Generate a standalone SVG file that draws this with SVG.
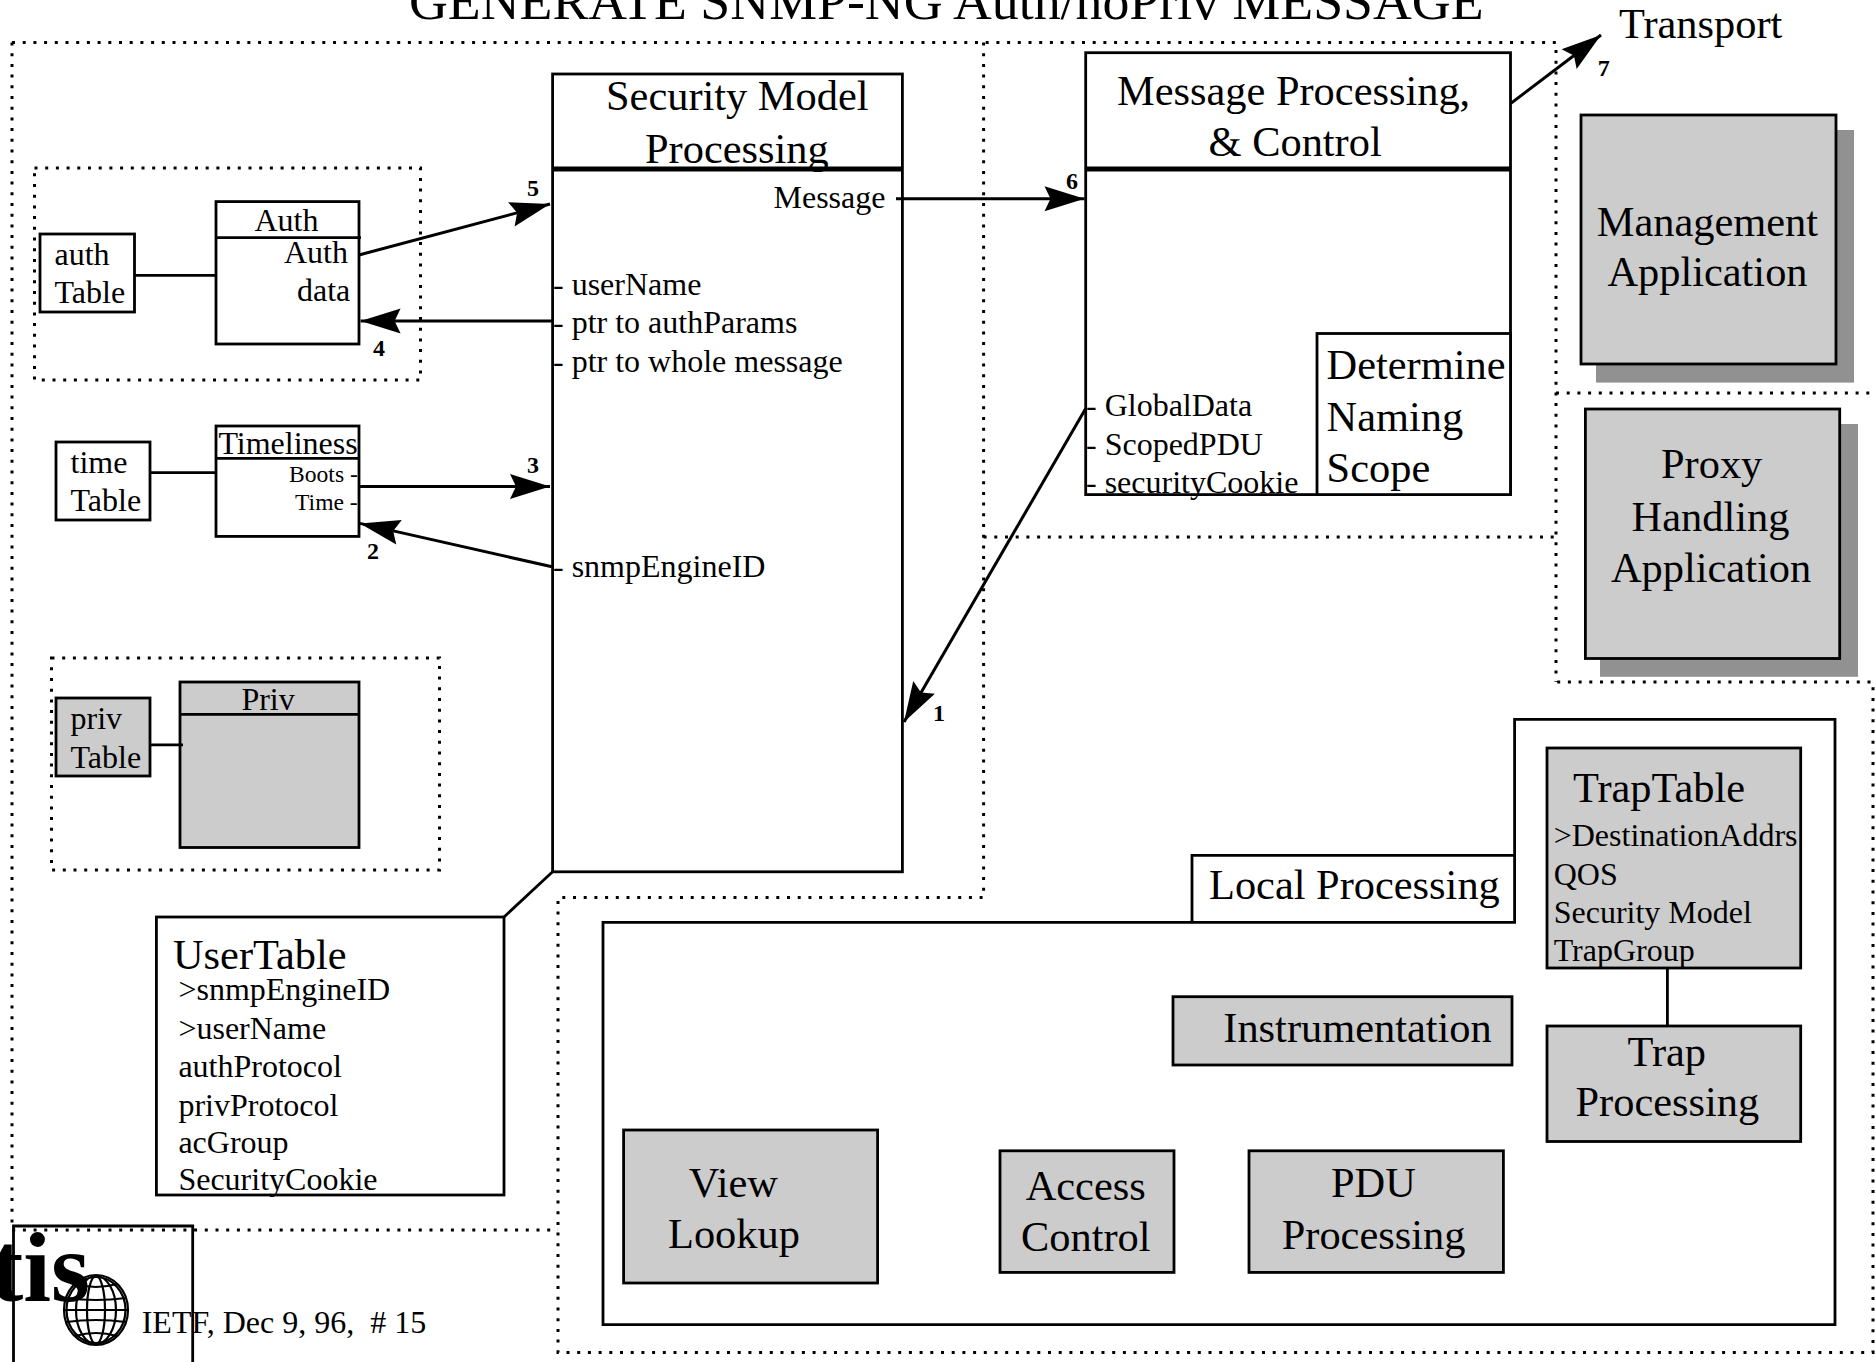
<svg xmlns="http://www.w3.org/2000/svg" width="1875" height="1362" viewBox="0 0 1875 1362">
<style>
text{font-family:"Liberation Serif","Times New Roman",serif;fill:#000;white-space:pre;transform:translate(-1px,0.7px)}
.l{font-size:42.4px}.m{font-size:32px}.s{font-size:23.6px}.n{font-size:24px;font-weight:bold}
.t{font-size:53.8px}.logo{font-size:100px;font-weight:bold}
.box{fill:#fff;stroke:#000;stroke-width:2.8}
.gray{fill:#ccc;stroke:#000;stroke-width:2.8}
.shadow{fill:#919191}
.hd{fill:none;stroke:#000;stroke-width:2.8}
.thick{fill:none;stroke:#000;stroke-width:5}
.dot{fill:none;stroke:#000;stroke-width:3;stroke-dasharray:3 7.7}
.wire{fill:none;stroke:#000;stroke-width:2.8}
.arrow{fill:none;stroke:#000;stroke-width:3;marker-end:url(#head)}
.globe{fill:none;stroke:#000;stroke-width:2.2}
</style>
<defs>
<marker id="head" markerUnits="userSpaceOnUse" markerWidth="42" markerHeight="26" refX="40" refY="12.5" orient="auto" overflow="visible">
<path d="M40,12.5 L0,0 L6,12.5 L0,25 Z" fill="#000"/>
</marker>
</defs>
<rect width="1875" height="1362" fill="#fff"/>
<text id="title" class="t" x="410" y="18">GENERATE SNMP-NG Auth/noPriv MESSAGE</text>
<text id="transport" class="l" x="1620" y="37">Transport</text>
<g id="boundaries">
<path class="dot" d="M12,42.5 H1556 V682 M12,42.5 V1230 H558 M983.6,42.5 V897.5 H558 V1352.5 H1873 V682 H1556 M983.6,537 H1556 M1556,393 H1875"/>
<rect class="dot" x="34.5" y="168" width="386" height="212"/>
<rect class="dot" x="51.5" y="658" width="388" height="212"/>
</g>
<g id="auth-table"><rect class="box" x="40" y="234" width="94.5" height="78"/>
<text class="m" x="55.5" y="264.5">auth</text><text class="m" x="55.5" y="302">Table</text></g>
<g id="auth"><rect class="box" x="216" y="201.6" width="143" height="142.4"/><path class="hd" d="M216,237.6 H361"/>
<text class="m" x="255.5" y="230">Auth</text><text class="m" x="285" y="262.4">Auth</text><text class="m" x="298" y="300.5">data</text></g>
<g id="time-table"><rect class="box" x="56" y="442" width="94" height="78"/>
<text class="m" x="71.5" y="472.7">time</text><text class="m" x="71.5" y="510.4">Table</text></g>
<g id="timeliness"><rect class="box" x="216" y="426" width="143" height="110.4"/><path class="hd" d="M216,458.4 H359"/>
<text class="m" x="219.4" y="453">Timeliness</text><text class="s" x="290" y="481.4">Boots -</text><text class="s" x="296" y="509.5">Time -</text></g>
<g id="priv-table"><rect class="gray" x="56" y="698" width="94" height="78"/>
<text class="m" x="71.5" y="728.7">priv</text><text class="m" x="71.5" y="767">Table</text></g>
<g id="priv"><rect class="gray" x="180" y="682" width="179" height="165.5"/><path class="hd" d="M180,714.4 H359"/>
<text class="m" x="242.4" y="709">Priv</text></g>
<g id="security-model"><rect class="box" x="552.6" y="74" width="349.8" height="797.8"/><path class="thick" d="M552.6,169 H902.4"/>
<text class="l" x="607" y="109.7">Security Model</text><text class="l" x="646" y="162">Processing</text>
<text class="m" x="774.5" y="207">Message</text>
<text class="m" x="554" y="294">- userName</text><text class="m" x="554" y="332.6">- ptr to authParams</text><text class="m" x="554" y="371">- ptr to whole message</text><text class="m" x="554" y="576.8">- snmpEngineID</text></g>
<g id="user-table"><rect class="box" x="156.4" y="917" width="347.6" height="278"/>
<text class="l" x="174" y="968">UserTable</text>
<text class="m" x="179.4" y="999.7">&gt;snmpEngineID</text><text class="m" x="179.4" y="1038">&gt;userName</text><text class="m" x="179.4" y="1076.3">authProtocol</text><text class="m" x="179.4" y="1115">privProtocol</text><text class="m" x="179.4" y="1152.8">acGroup</text><text class="m" x="179.4" y="1189.8">SecurityCookie</text></g>
<g id="message-processing"><rect class="box" x="1085.7" y="52.7" width="424.8" height="441.9"/><path class="thick" d="M1085.7,169 H1510.5"/>
<text class="l" x="1118" y="104">Message Processing,</text><text class="l" x="1209.6" y="155.4">&amp; Control</text>
<text class="m" x="1087" y="415">- GlobalData</text><text class="m" x="1087" y="454.5">- ScopedPDU</text><text class="m" x="1087" y="492">- securityCookie</text></g>
<g id="naming-scope"><rect class="box" x="1317" y="333.5" width="193.5" height="161.1"/>
<text class="l" x="1327.6" y="378">Determine</text><text class="l" x="1327.6" y="430">Naming</text><text class="l" x="1327.6" y="481">Scope</text></g>
<g id="management-app"><rect class="shadow" x="1596" y="130" width="258" height="252.6"/><rect class="gray" x="1581" y="115" width="255" height="249"/>
<text class="l" x="1597.8" y="235">Management</text><text class="l" x="1608.4" y="285.7">Application</text></g>
<g id="proxy-app"><rect class="shadow" x="1600" y="424" width="258" height="252.8"/><rect class="gray" x="1585.4" y="409" width="254.3" height="249.5"/>
<text class="l" x="1662" y="477.7">Proxy</text><text class="l" x="1632.6" y="530">Handling</text><text class="l" x="1612" y="581">Application</text></g>
<g id="local-processing"><path class="box" d="M603,922.4 H1514.6 V719.4 H1835 V1324.6 H603 Z"/><path class="hd" d="M1192,922.4 V855.3 H1516"/>
<text class="l" x="1210" y="898.4">Local Processing</text></g>
<g id="trap-table"><rect class="gray" x="1547" y="748" width="253.7" height="220"/>
<text class="l" x="1574" y="801.3">TrapTable</text>
<text class="m" x="1554.7" y="845.6">&gt;DestinationAddrs</text><text class="m" x="1554.7" y="884">QOS</text><text class="m" x="1554.7" y="922.5">Security Model</text><text class="m" x="1554.7" y="960.4">TrapGroup</text></g>
<g id="trap-processing"><rect class="gray" x="1547" y="1026" width="253.7" height="115.5"/>
<text class="l" x="1628.5" y="1065">Trap</text><text class="l" x="1576.5" y="1115.8">Processing</text></g>
<g id="instrumentation"><rect class="gray" x="1173" y="996.7" width="339" height="68.3"/>
<text class="l" x="1224.3" y="1041">Instrumentation</text></g>
<g id="access-control"><rect class="gray" x="1000" y="1150.8" width="174" height="121.6"/>
<text class="l" x="1026.7" y="1199">Access</text><text class="l" x="1022" y="1250">Control</text></g>
<g id="pdu-processing"><rect class="gray" x="1249" y="1150.8" width="254.4" height="121.6"/>
<text class="l" x="1332" y="1196.8">PDU</text><text class="l" x="1282.7" y="1248">Processing</text></g>
<g id="view-lookup"><rect class="gray" x="623.6" y="1130" width="254" height="153"/>
<text class="l" x="689.7" y="1196">View</text><text class="l" x="669" y="1247.6">Lookup</text></g>
<g id="logo">
<path class="hd" d="M13.5,1362 V1226 H192.7 V1362"/>
<text class="logo" x="-9" y="1300">tis</text>
<g class="globe">
<ellipse cx="96" cy="1310" rx="32" ry="35"/><ellipse cx="96" cy="1310" rx="29.5" ry="33"/>
<ellipse cx="96" cy="1310" rx="20" ry="34"/><ellipse cx="96" cy="1310" rx="9" ry="34"/>
<path d="M75,1284 Q96,1290 117,1284 M66,1298 Q96,1302 126,1298 M64,1310 H128 M66,1322 Q96,1318 126,1322 M75,1336 Q96,1330 117,1336"/>
</g>
<text class="m" x="142.7" y="1332.7">IETF, Dec 9, 96,  # 15</text>
</g>
<g id="connectors">
<path class="wire" d="M134.5,275.4 H216 M150,472.7 H216 M150,744.8 H183 M504,917 L552.6,871.8 M1667.4,968 V1026"/>
<path class="arrow" d="M359,255 L550,204"/>
<path class="arrow" d="M552,321 H360.6"/>
<path class="arrow" d="M359,486.5 H550"/>
<path class="arrow" d="M552,566.8 L360,523.4"/>
<path class="arrow" d="M896,198.7 H1084.5"/>
<path class="arrow" d="M1085.7,408.5 L904,722"/>
<path class="arrow" d="M1510.5,103.6 L1601,35"/>
<text class="n" x="934" y="720">1</text><text class="n" x="368" y="558.5">2</text><text class="n" x="528" y="472">3</text><text class="n" x="374" y="355.6">4</text><text class="n" x="528" y="195">5</text><text class="n" x="1067" y="188.4">6</text><text class="n" x="1598.8" y="75">7</text>
</g>
</svg>
